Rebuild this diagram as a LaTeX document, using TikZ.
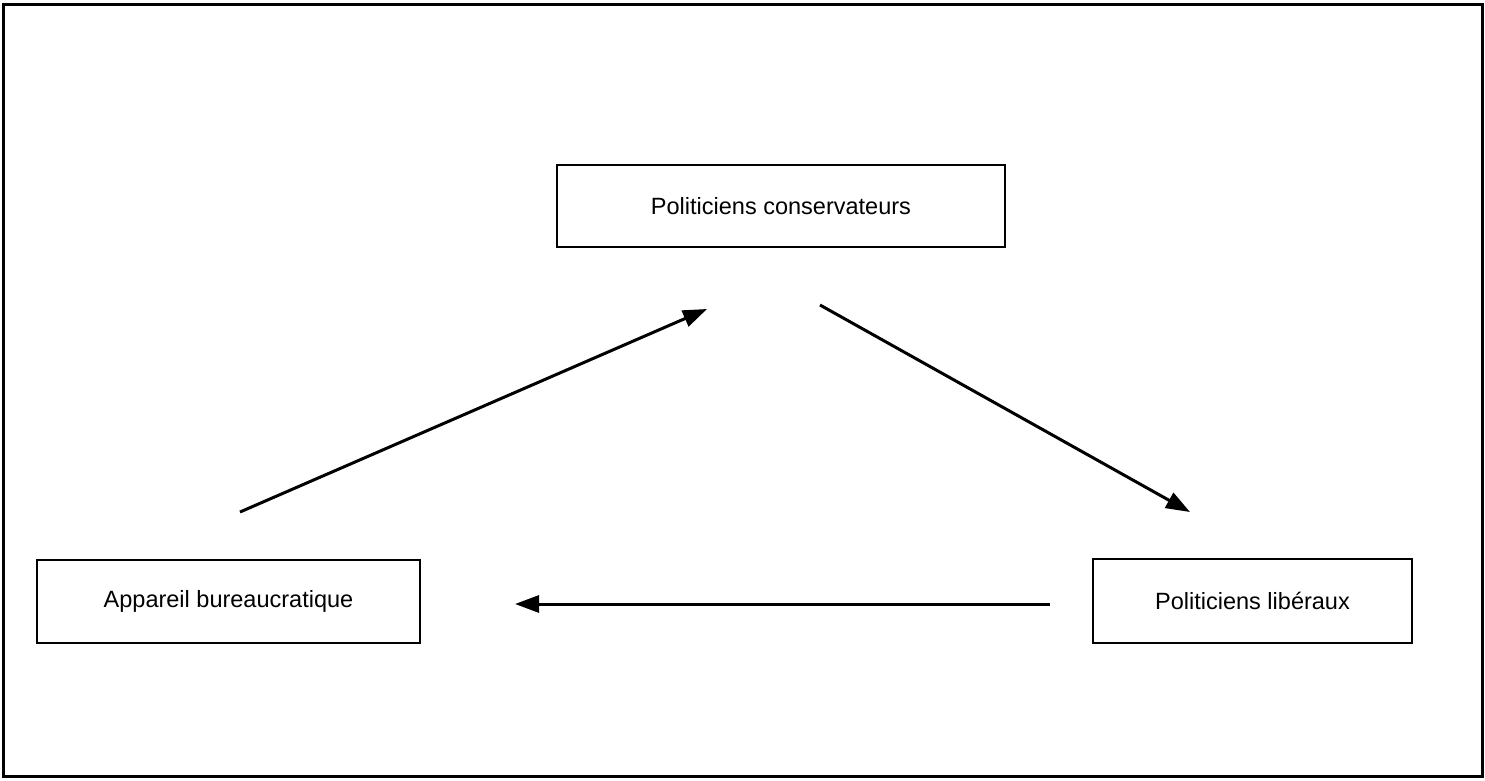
\documentclass[tikz,border=0pt]{standalone}
\usepackage{fontspec}
\setmainfont{Liberation Sans}
\usetikzlibrary{arrows.meta}
\begin{document}
\begin{tikzpicture}[x=1bp,y=-1bp,
  actor/.style={draw=black,line width=2.2bp,inner sep=0pt,font=\fontsize{23.6}{28}\selectfont},
  link/.style={line width=3bp,-{Triangle[length=24bp,width=17bp]}}]
\useasboundingbox (0,0) rectangle (1485,780);
\draw[line width=3bp] (3,5) rectangle (1482,776);
\node[actor,minimum width=448bp,minimum height=82bp] (cons) at (781,206) {Politiciens conservateurs};
\node[actor,minimum width=383bp,minimum height=83bp] (bur) at (228.5,601.5) {Appareil bureaucratique};
\node[actor,minimum width=319bp,minimum height=84bp] (lib) at (1252.5,601) {Politiciens libéraux};
\coordinate (a1s) at (240,512);
\coordinate (a1e) at (707,309);
\coordinate (a2s) at (820,305);
\coordinate (a2e) at (1190,512);
\coordinate (a3s) at (1050,604);
\coordinate (a3e) at (515,604);
\draw[link] (a1s) -- (a1e);
\draw[link] (a2s) -- (a2e);
\draw[link] (a3s) -- (a3e);
\end{tikzpicture}
\end{document}
